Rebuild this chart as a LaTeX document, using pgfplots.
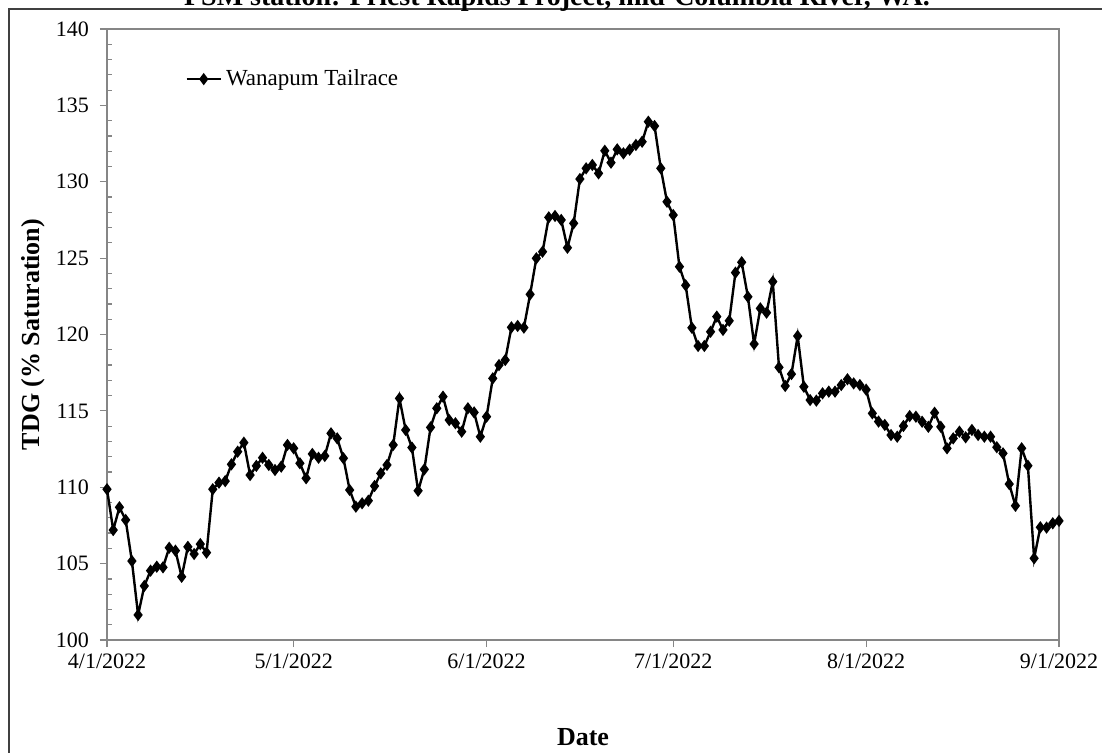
\documentclass[border=0pt]{standalone}
\usepackage{fontspec}
\setmainfont{Liberation Serif}
\usepackage{pgfplots}
\pgfplotsset{compat=1.18}
\usepackage{pgfplotstable}
\definecolor{axgray}{RGB}{134,134,134}

\pgfplotstableread{
day val
0 109.87
1 107.2
2 108.69
3 107.86
4 105.17
5 101.64
6 103.54
7 104.54
8 104.8
9 104.76
10 106.04
11 105.85
12 104.14
13 106.1
14 105.63
15 106.28
16 105.72
17 109.87
18 110.3
19 110.4
20 111.5
21 112.33
22 112.92
23 110.8
24 111.4
25 111.93
26 111.46
27 111.13
28 111.35
29 112.77
30 112.55
31 111.57
32 110.59
33 112.18
34 111.93
35 112.05
36 113.53
37 113.2
38 111.9
39 109.82
40 108.73
41 108.95
42 109.12
43 110.08
44 110.91
45 111.46
46 112.77
47 115.82
48 113.75
49 112.6
50 109.77
51 111.17
52 113.92
53 115.17
54 115.93
55 114.4
56 114.19
57 113.64
58 115.17
59 114.9
60 113.31
61 114.62
62 117.13
63 118.0
64 118.33
65 120.47
66 120.56
67 120.45
68 122.63
69 124.99
70 125.42
71 127.67
72 127.76
73 127.5
74 125.68
75 127.28
76 130.18
77 130.88
78 131.1
79 130.55
80 132.03
81 131.25
82 132.12
83 131.86
84 132.1
85 132.41
86 132.62
87 133.93
88 133.65
89 130.88
90 128.69
91 127.82
92 124.44
93 123.22
94 120.44
95 119.25
96 119.25
97 120.18
98 121.17
99 120.3
100 120.9
101 124.05
102 124.73
103 122.47
104 119.38
105 121.71
106 121.43
107 123.46
108 117.85
109 116.63
110 117.41
111 119.9
112 116.58
113 115.71
114 115.67
115 116.15
116 116.26
117 116.26
118 116.69
119 117.07
120 116.8
121 116.69
122 116.39
123 114.84
124 114.3
125 114.08
126 113.42
127 113.31
128 114.01
129 114.66
130 114.62
131 114.29
132 113.96
133 114.88
134 113.96
135 112.55
136 113.2
137 113.64
138 113.27
139 113.75
140 113.42
141 113.31
142 113.31
143 112.62
144 112.22
145 110.21
146 108.79
147 112.55
148 111.41
149 105.35
150 107.38
151 107.36
152 107.64
153 107.8
}\tdgdata

\begin{document}
\begin{tikzpicture}
\begin{axis}[
  scale only axis, width=476pt, height=305.5pt,
  xmin=0, xmax=153, ymin=100, ymax=140,
  xtick={0,30,61,91,122,153},
  xticklabels={4/1/2022,5/1/2022,6/1/2022,7/1/2022,8/1/2022,9/1/2022},
  ytick={100,105,...,140},
  minor y tick num=4,
  tick pos=left,
  axis line style={axgray, line width=0.8pt},
  every tick/.style={axgray, line width=0.6pt},
  tick align=outside,
  major tick length=3.5pt,
  minor tick length=-2.5pt,
  /pgf/number format/assume math mode=true,
  tick label style={font=\fontsize{11}{13}\selectfont, black},
  yticklabel style={xshift=-2pt},
  xlabel={Date}, ylabel={TDG (\% Saturation)},
  label style={font=\bfseries\fontsize{13}{15}\selectfont},
  xlabel style={at={(axis description cs:0.5,-0.1588)}, anchor=center},
  ylabel style={at={(axis description cs:-0.0777,0.5)}, anchor=center},
  legend style={draw=none, fill=none, at={(axis description cs:0.082,0.918)}, anchor=west, font=\fontsize{11.5}{13}\selectfont, inner sep=0pt},
  legend cell align=left,
]
\addplot[black, line width=1.2pt, mark=diamond*, mark size=2.1pt, mark options={solid}] table[x=day, y=val] {\tdgdata};
\addlegendentry{Wanapum Tailrace}
\end{axis}
\draw[black!75, line width=0.6pt] (-49pt,-80pt) rectangle (520pt,315.5pt);
\node[anchor=base, font=\bfseries\fontsize{14}{16}\selectfont, inner sep=0pt] at (225pt,317.5pt) {FSM station: Priest Rapids Project, mid-Columbia River, WA.};
\pgfresetboundingbox
\useasboundingbox (-53.5pt,-56pt) rectangle (497.5pt,320pt);
\end{tikzpicture}
\end{document}
